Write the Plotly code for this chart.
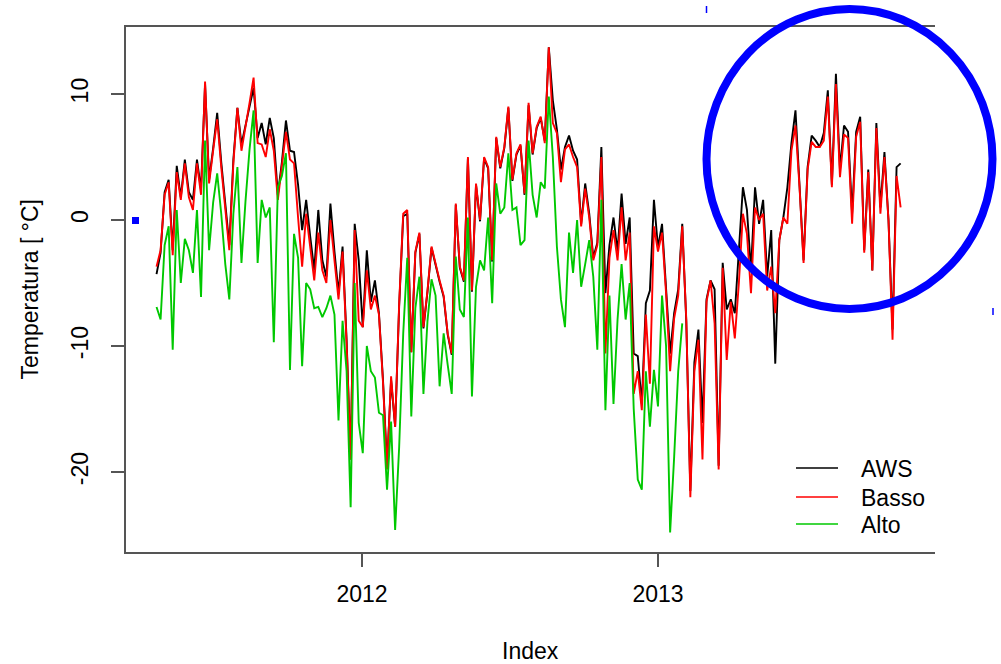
import pandas as pd
import plotly.graph_objects as go

# Daily temperature series sampled every 5 days, starting 2011-04-22
start_date = "2011-04-22"
step_days = 5

aws = [
    -4.3, -2.6, 2.2, 3.2, -2.4, 4.3, 1.8, 4.8, 2.2, 1.6,
    4.8, 2.4, 10.8, 3.2, 5.7, 8.5, 4.6, 1.2, -2.0, 4.8,
    8.9, 6.0, 7.6, 9.0, 10.5, 6.5, 7.7, 6.0, 8.1, 6.5,
    2.0, 4.6, 7.9, 5.5, 5.4, 2.8, -0.8, 1.6, -1.3, -4.0,
    0.8, -3.2, -4.5, 1.3, -2.5, -5.8, -2.1, -9.5, -19.0, -0.3,
    -3.2, -8.5, -2.4, -6.5, -4.8, -7.4, -12.7, -19.5, -12.7, -16.4,
    -6.8, 0.3, 0.5, -10.5, -2.6, -1.1, -8.6, -5.7, -2.2, -3.6,
    -4.9, -6.1, -9.1, -10.7, 1.2, -3.8, -4.9, 4.9, -5.7, 2.8,
    -0.1, 4.9, 4.1, -3.3, 6.5, 4.1, 5.7, 8.9, 3.1, 5.2,
    5.9, 2.0, 9.1, 5.2, 7.3, 8.1, 6.3, 13.7, 9.5, 7.2,
    4.0, 5.8, 6.7, 5.5, 4.8, -0.3, 2.9, 0.5, -3.0, -1.8,
    5.8, -5.8, -2.0, 0.2, -2.5, 2.1, -1.9, 0.2, -10.6, -10.8,
    -14.6, -6.6, -5.6, 1.6, -2.2, -0.3, -5.5, -10.6, -7.4, -5.5,
    -0.3, -8.1, -21.5, -11.3, -8.7, -16.1, -6.3, -4.8, -5.5, -19.5,
    -3.4, -7.1, -6.3, -7.4, -2.4, 2.6, 0.8, -4.0, 2.6, -0.3,
    1.6, -4.5, -0.8, -11.4, -1.6, 0.2, 2.6, 6.1, 8.7, 2.9,
    -3.2, 4.2, 6.7, 6.3, 5.8, 6.9, 10.3, 2.8, 11.6, 4.0,
    7.5, 7.0, 0.5, 7.0, 8.2, -2.4, 4.0, -4.0, 7.7, 1.0,
    5.4, 0.0, -8.7, 4.2, 4.5,
]

basso = [
    -3.7, -2.4, 2.0, 3.0, -2.8, 3.8, 1.6, 4.5, 1.8, 0.8,
    4.5, 2.0, 11.0, 2.9, 5.5, 8.0, 4.2, 1.0, -2.4, 4.5,
    8.9, 5.5, 7.3, 9.3, 11.3, 6.1, 6.0, 5.0, 7.2, 5.5,
    1.6, 4.2, 7.0, 4.8, 4.5, 0.2, -3.7, 0.5, -2.1, -4.8,
    -1.0, -4.0, -5.0, 0.0, -3.2, -6.3, -2.5, -9.8, -19.0, -0.8,
    -8.0, -8.5, -4.0, -7.1, -6.0, -7.5, -12.9, -19.8, -12.4, -16.4,
    -6.6, 0.5, 0.8, -10.5, -2.5, -1.0, -8.5, -5.6, -2.1, -3.5,
    -4.8, -6.0, -9.0, -10.6, 1.3, -3.7, -4.8, 5.0, -5.6, 2.9,
    0.0, 5.0, 4.2, -3.2, 6.6, 4.2, 5.8, 9.0, 3.2, 5.3,
    6.0, 2.1, 9.3, 5.3, 7.4, 8.2, 6.1, 13.7, 7.7, 6.9,
    3.0, 5.6, 6.0, 5.0, 4.2, -0.5, 2.5, 0.2, -3.2, -2.0,
    5.0, -10.6, -3.0, -0.8, -3.2, 1.0, -3.2, -1.0, -13.8, -12.0,
    -15.1, -7.5, -13.0, -0.5, -2.5, -1.0, -5.8, -12.0, -7.8, -6.0,
    -0.5, -7.9, -22.0, -12.0, -9.5, -19.0, -6.5, -4.8, -8.2, -19.8,
    -3.8, -11.1, -6.5, -9.4, -5.0, 0.5, -1.1, -5.8, 1.0, 0.0,
    0.5, -5.6, -3.7, -7.4, -1.6, 0.2, -0.3, 5.5, 7.5, 2.6,
    -3.4, 4.0, 6.2, 5.8, 5.8, 6.3, 9.8, 2.6, 10.8, 3.4,
    6.8, 6.5, -0.3, 6.6, 7.8, -2.6, 3.8, -4.0, 7.3, 0.5,
    5.0, 0.0, -9.5, 3.5, 1.0,
]

alto = [
    -6.9, -7.9, -2.0, -0.5, -10.3, 0.8, -5.0, -1.5, -2.4, -4.2,
    0.8, -6.1, 6.3, -2.4, 1.4, 3.7, 0.5, -3.5, -6.3, 0.5,
    4.2, -3.4, 1.5, 5.6, 8.7, -3.4, 1.6, 0.2, 1.0, -9.7,
    2.6, 3.5, 5.3, -11.9, -1.1, -3.0, -11.6, -5.0, -5.5, -7.0,
    -6.9, -7.7, -7.0, -6.0, -7.5, -15.9, -8.0, -12.0, -22.8, -5.0,
    -16.1, -18.5, -10.0, -12.0, -12.5, -15.3, -15.5, -21.4, -16.0, -24.6,
    -18.0, -9.0, -3.0, -15.6, -7.0, -4.5, -13.8, -8.0, -4.7, -6.0,
    -13.2, -9.0, -11.5, -13.8, -2.9, -7.1, -7.7, 0.2, -14.0, -5.3,
    -3.2, -4.0, 0.2, -6.6, 2.9, 0.5, 1.0, 5.3, 0.8, 1.0,
    -2.0, -1.6, 6.3, 2.0, 0.2, 3.0, 2.5, 9.8, 5.0, -2.1,
    -6.3, -8.5, -1.0, -4.2, 0.0, -5.3, -3.5, -1.6, -4.5, -10.3,
    1.6, -15.1, -6.0, -14.6, -7.9, -3.5, -7.9, -5.0, -15.0, -20.6,
    -21.4, -12.0, -16.4, -11.9, -14.8, -6.0, -10.0, -24.8, -18.8, -12.0,
    -8.2,
]

series_names = ["AWS", "Basso", "Alto"]
series_colors = ["#000000", "#ff0000", "#00c800"]
year_ticks = ["2012-01-01", "2013-01-01"]
year_labels = ["2012", "2013"]
temp_ticks = [-20, -10, 0, 10]
temp_labels = ["-20", "-10", "0", "10"]

dates = pd.date_range(start_date, periods=len(aws), freq=f"{step_days}D")

# page geometry (pixels)
W, H = 1001, 664
PL, PR, PT, PB = 126, 935, 27, 552
pw, ph = PR - PL, PB - PT


def px(x):
    return (x - PL) / pw


def py(y):
    return (PB - y) / ph


FONT = "Liberation Sans, Arial, Helvetica, sans-serif"
AXIS_GREY = "#555555"

fig = go.Figure()
for name, vals, color in zip(series_names, [aws, basso, alto], series_colors):
    fig.add_trace(go.Scatter(
        x=dates[:len(vals)], y=vals, mode="lines", name=name,
        line=dict(color=color, width=1.9), showlegend=False,
    ))

fig.update_layout(
    width=W, height=H, autosize=False,
    margin=dict(l=PL, r=W - PR, t=PT, b=H - PB, pad=0),
    paper_bgcolor="white", plot_bgcolor="white",
    font=dict(family=FONT, size=23, color="black"),
    xaxis=dict(
        range=["2011-03-15 06:00", "2013-12-09 12:00"],
        tickvals=year_ticks, ticktext=year_labels,
        ticks="outside", ticklen=13, tickwidth=1.5, tickcolor=AXIS_GREY,
        showline=True, linecolor=AXIS_GREY, linewidth=1.5, mirror=True,
        showgrid=False, zeroline=False, ticklabelstandoff=8,
        tickfont=dict(size=23),
    ),
    yaxis=dict(
        range=[-26.35, 15.32],
        tickvals=temp_ticks, ticktext=temp_labels,
        ticks="outside", ticklen=13, tickwidth=1.5, tickcolor=AXIS_GREY,
        showline=True, linecolor=AXIS_GREY, linewidth=1.5, mirror=False,
        showgrid=False, zeroline=False, tickangle=-90, ticklabelstandoff=14,
        tickfont=dict(size=23),
    ),
)

annotations = [
    dict(text="Index", x=0.5, y=py(651), xref="paper", yref="paper",
         showarrow=False, xanchor="center", yanchor="middle", font=dict(size=23)),
    dict(text="Temperatura [ °C]", x=px(29), y=0.5, xref="paper", yref="paper",
         showarrow=False, xanchor="center", yanchor="middle", textangle=-90,
         font=dict(size=23)),
]

shapes = []
# legend keys
legend_rows = [468, 497, 524]
for name, color, ry in zip(series_names, series_colors, legend_rows):
    shapes.append(dict(type="line", xref="paper", yref="paper",
                       x0=px(796), x1=px(838), y0=py(ry), y1=py(ry),
                       line=dict(color=color, width=1.5)))
    annotations.append(dict(text=name, x=px(859), y=py(ry + 1), xref="paper", yref="paper",
                            showarrow=False, xanchor="left", yanchor="middle",
                            font=dict(size=23)))

# blue highlight circle around the 2013 summer
shapes.append(dict(type="circle", xref="paper", yref="paper",
                   x0=px(706.5), x1=px(992.5), y0=py(309), y1=py(9),
                   line=dict(color="#0000ff", width=8)))
# small blue markers
shapes.append(dict(type="rect", xref="paper", yref="paper",
                   x0=px(132), x1=px(139), y0=py(224), y1=py(217),
                   fillcolor="#0000ff", line=dict(width=0)))
shapes.append(dict(type="line", xref="paper", yref="paper",
                   x0=px(706.5), x1=px(706.5), y0=py(13), y1=py(6),
                   line=dict(color="#0000ff", width=1.5)))
shapes.append(dict(type="line", xref="paper", yref="paper",
                   x0=px(993), x1=px(993), y0=py(315), y1=py(308),
                   line=dict(color="#0000ff", width=1.5)))

fig.update_layout(annotations=annotations, shapes=shapes)

fig.write_html("out.html")
